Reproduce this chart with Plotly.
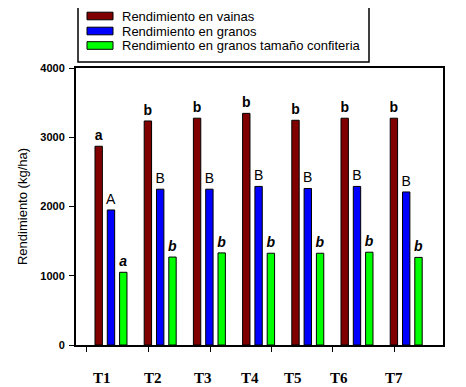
import plotly.graph_objects as go

# ---- data ----
treatments = ["T1", "T2", "T3", "T4", "T5", "T6", "T7"]
series_names = ["Rendimiento en vainas", "Rendimiento en granos",
                "Rendimiento en granos tamaño confiteria"]
vainas = [2870, 3235, 3275, 3345, 3245, 3275, 3275]
granos = [1950, 2250, 2250, 2290, 2260, 2290, 2210]
confiteria = [1050, 1270, 1330, 1325, 1325, 1340, 1265]
letters_vainas = ["a", "b", "b", "b", "b", "b", "b"]
letters_granos = ["A", "B", "B", "B", "B", "B", "B"]
letters_confiteria = ["a", "b", "b", "b", "b", "b", "b"]
y_ticks = [0, 1000, 2000, 3000, 4000]

# ---- style / layout (pixel values measured in the window; page body has an 8px margin) ----
colors = ["#800000", "#0000FF", "#00FF00"]
offsets = [-0.25, 0.0, 0.25]
bar_w = 0.15
OFF = 8
W, H = 466 - OFF, 387 - OFF
PL, PR, PT, PB = 76, 443, 68, 345          # plot box in window pixels
L, T = PL - OFF, PT - OFF
R, B = W - (PR - OFF), H - (PB - OFF)
PW, PH = PR - PL, PB - PT
xmin, xmax = -0.711, 6.748

def px_x(px):   # window pixel -> paper x
    return (px - PL) / PW

def px_y(py):   # window pixel -> paper y
    return (PB - py) / PH

def px_to_data_x(px):
    return xmin + (px - PL) / PW * (xmax - xmin)

fig = go.Figure()
series = [vainas, granos, confiteria]
letters = [letters_vainas, letters_granos, letters_confiteria]
templates = ["<b>%{text}</b>", "%{text}", "<b><i>%{text}</i></b>"]
for k in range(3):
    fig.add_trace(go.Bar(
        x=[i + offsets[k] for i in range(len(treatments))],
        y=series[k],
        width=bar_w,
        name=series_names[k],
        marker=dict(color=colors[k], line=dict(color="black", width=1)),
        text=letters[k],
        texttemplate=templates[k],
        textposition="outside",
        constraintext="none",
        cliponaxis=False,
        textfont=dict(family="Liberation Sans, Arial", size=14, color="black"),
        showlegend=False,
    ))

tick_px = [86.7, 148.3, 210, 271.7, 332.3, 394.3]
fig.update_xaxes(
    range=[xmin, xmax], showgrid=False, zeroline=False,
    showline=True, linecolor="black", linewidth=2, mirror=True,
    ticks="outside", ticklen=5, tickwidth=1, tickcolor="black",
    tickvals=[px_to_data_x(p) for p in tick_px], showticklabels=False,
)
fig.update_yaxes(
    range=[0, 4000], showgrid=False, zeroline=False,
    showline=True, linecolor="black", linewidth=2, mirror=True,
    ticks="outside", ticklen=5, tickwidth=1, tickcolor="black",
    tickvals=y_ticks, ticklabelstandoff=2,
    tickfont=dict(family="Liberation Sans, Arial", size=11, color="black", weight="bold"),
    title=dict(text="Rendimiento (kg/ha)", standoff=10,
               font=dict(family="Liberation Sans, Arial", size=13, color="black")),
)

# x category labels (placed like the reference)
label_px = [101.7, 152.7, 203, 250, 292.7, 339.3, 394]
for name, p in zip(treatments, label_px):
    fig.add_annotation(x=px_x(p), y=px_y(378), xref="paper", yref="paper",
                       xanchor="center", yanchor="middle",
                       text="<b>%s</b>" % name, showarrow=False,
                       font=dict(family="Liberation Serif, Times New Roman", size=15, color="black"))

# manual legend
fig.add_shape(type="rect", xref="paper", yref="paper",
              x0=px_x(78), x1=px_x(369), y0=px_y(62), y1=px_y(-3),
              line=dict(color="black", width=1.5), fillcolor="white", layer="below")
row_y = [16, 31, 45.5]
for k in range(3):
    fig.add_shape(type="rect", xref="paper", yref="paper",
                  x0=px_x(87), x1=px_x(113), y0=px_y(row_y[k] + 3.8), y1=px_y(row_y[k] - 3.8),
                  line=dict(color="black", width=1), fillcolor=colors[k])
    fig.add_annotation(x=px_x(120), y=px_y(row_y[k]), xref="paper", yref="paper",
                       xanchor="left", yanchor="middle", text=series_names[k], showarrow=False,
                       font=dict(family="Liberation Sans, Arial", size=13, color="black"))

fig.update_layout(
    width=W, height=H, barmode="overlay",
    margin=dict(l=L, r=R, t=T, b=B, autoexpand=False),
    plot_bgcolor="white", paper_bgcolor="white",
    showlegend=False,
)
fig.write_html("out.html")
